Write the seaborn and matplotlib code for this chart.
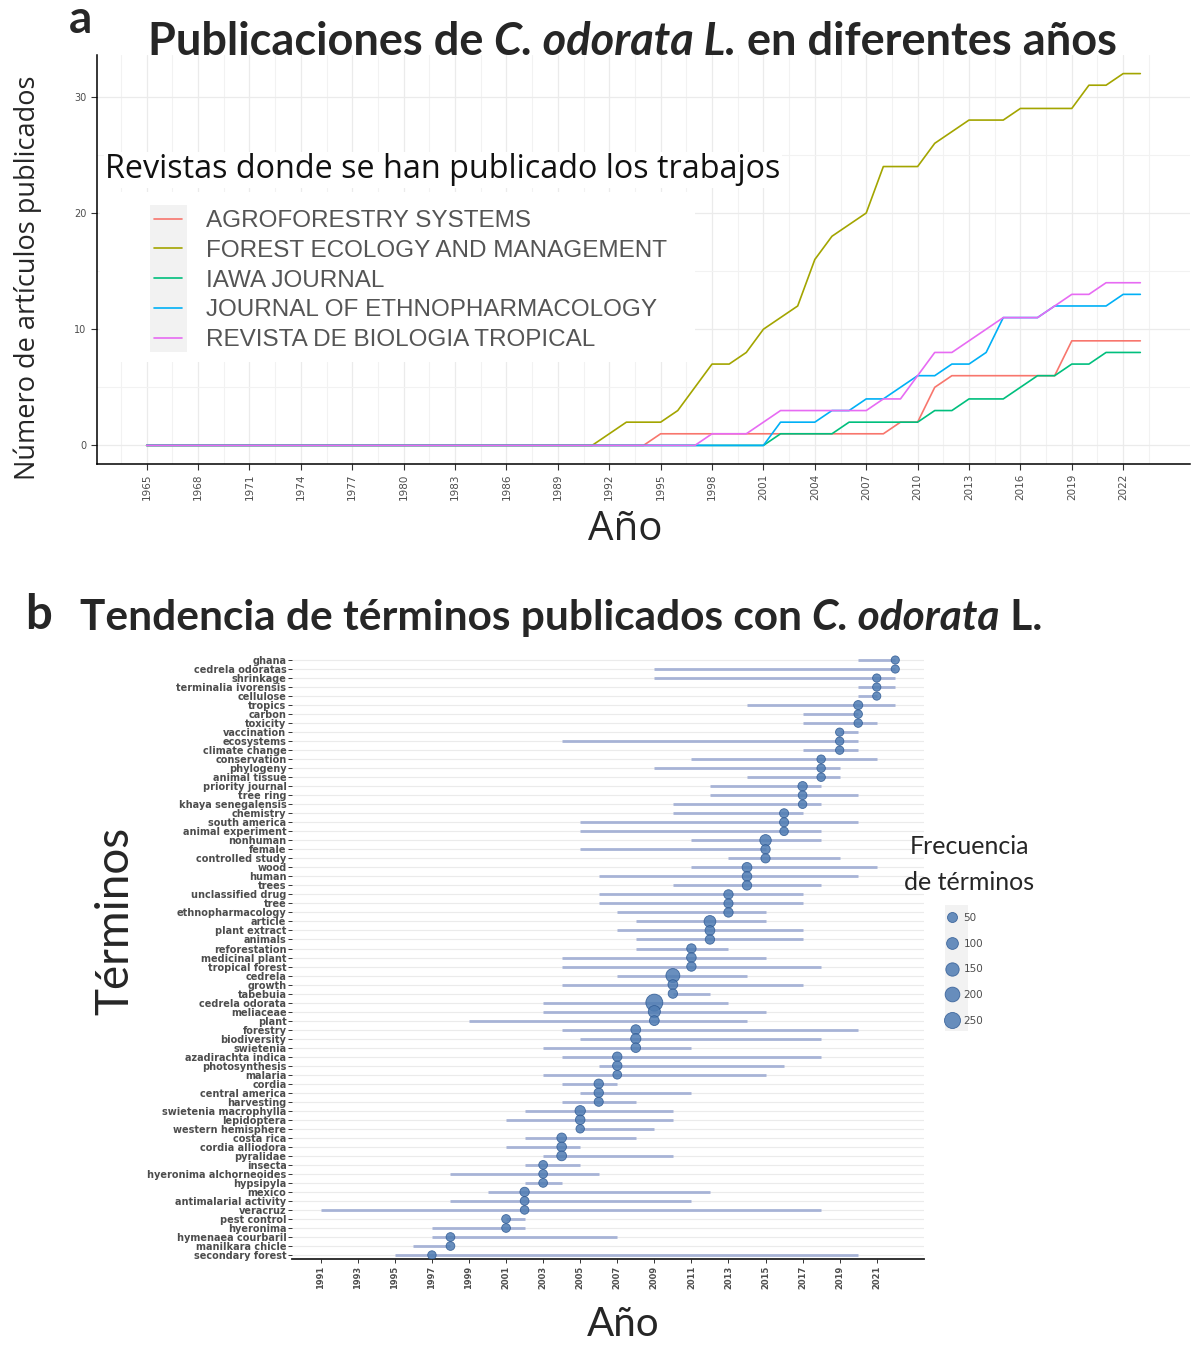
import numpy as np
import pandas as pd
import matplotlib
matplotlib.use("Agg")
import matplotlib.pyplot as plt
import seaborn as sns
from matplotlib.lines import Line2D
from matplotlib.patches import Rectangle

# ---------------- panel a: cumulative publications per journal ----------------
years_a = list(range(1965, 2024))
journals = ["AGROFORESTRY SYSTEMS", "FOREST ECOLOGY AND MANAGEMENT", "IAWA JOURNAL",
            "JOURNAL OF ETHNOPHARMACOLOGY", "REVISTA DE BIOLOGIA TROPICAL"]
journal_colors = ["#F8766D", "#A3A500", "#00BF7D", "#00B0F6", "#E76BF3"]

agroforestry = [0, 0, 0, 0, 0, 0, 0, 0, 0, 0,
                0, 0, 0, 0, 0, 0, 0, 0, 0, 0,
                0, 0, 0, 0, 0, 0, 0, 0, 0, 0,
                1, 1, 1, 1, 1, 1, 1, 1, 1, 1,
                1, 1, 1, 1, 2, 2, 5, 6, 6, 6,
                6, 6, 6, 6, 9, 9, 9, 9, 9]
forest_ecology = [0, 0, 0, 0, 0, 0, 0, 0, 0, 0,
                  0, 0, 0, 0, 0, 0, 0, 0, 0, 0,
                  0, 0, 0, 0, 0, 0, 0, 1, 2, 2,
                  2, 3, 5, 7, 7, 8, 10, 11, 12, 16,
                  18, 19, 20, 24, 24, 24, 26, 27, 28, 28,
                  28, 29, 29, 29, 29, 31, 31, 32, 32]
iawa = [0, 0, 0, 0, 0, 0, 0, 0, 0, 0,
        0, 0, 0, 0, 0, 0, 0, 0, 0, 0,
        0, 0, 0, 0, 0, 0, 0, 0, 0, 0,
        0, 0, 0, 0, 0, 0, 0, 1, 1, 1,
        1, 2, 2, 2, 2, 2, 3, 3, 4, 4,
        4, 5, 6, 6, 7, 7, 8, 8, 8]
ethnopharm = [0, 0, 0, 0, 0, 0, 0, 0, 0, 0,
              0, 0, 0, 0, 0, 0, 0, 0, 0, 0,
              0, 0, 0, 0, 0, 0, 0, 0, 0, 0,
              0, 0, 0, 0, 0, 0, 0, 2, 2, 2,
              3, 3, 4, 4, 5, 6, 6, 7, 7, 8,
              11, 11, 11, 12, 12, 12, 12, 13, 13]
rev_bio_trop = [0, 0, 0, 0, 0, 0, 0, 0, 0, 0,
                0, 0, 0, 0, 0, 0, 0, 0, 0, 0,
                0, 0, 0, 0, 0, 0, 0, 0, 0, 0,
                0, 0, 0, 1, 1, 1, 2, 3, 3, 3,
                3, 3, 3, 4, 4, 6, 8, 8, 9, 10,
                11, 11, 11, 12, 13, 13, 14, 14, 14]

# ---------------- panel b: term trends ----------------
terms = ["ghana", "cedrela odoratas", "shrinkage", "terminalia ivorensis", "cellulose",
         "tropics", "carbon", "toxicity", "vaccination", "ecosystems",
         "climate change", "conservation", "phylogeny", "animal tissue", "priority journal",
         "tree ring", "khaya senegalensis", "chemistry", "south america", "animal experiment",
         "nonhuman", "female", "controlled study", "wood", "human",
         "trees", "unclassified drug", "tree", "ethnopharmacology", "article",
         "plant extract", "animals", "reforestation", "medicinal plant", "tropical forest",
         "cedrela", "growth", "tabebuia", "cedrela odorata", "meliaceae",
         "plant", "forestry", "biodiversity", "swietenia", "azadirachta indica",
         "photosynthesis", "malaria", "cordia", "central america", "harvesting",
         "swietenia macrophylla", "lepidoptera", "western hemisphere", "costa rica", "cordia alliodora",
         "pyralidae", "insecta", "hyeronima alchorneoides", "hypsipyla", "mexico",
         "antimalarial activity", "veracruz", "pest control", "hyeronima", "hymenaea courbaril",
         "manilkara chicle", "secondary forest"]
year_first = [2020, 2009, 2009, 2020, 2020, 2014, 2017, 2017, 2019, 2004,
              2017, 2011, 2009, 2014, 2012, 2012, 2010, 2010, 2005, 2005,
              2011, 2005, 2013, 2011, 2006, 2010, 2006, 2006, 2007, 2008,
              2007, 2008, 2008, 2004, 2004, 2007, 2004, 2010, 2003, 2003,
              1999, 2004, 2005, 2003, 2004, 2006, 2003, 2004, 2005, 2004,
              2002, 2001, 2005, 2002, 2001, 2003, 2002, 1998, 2002, 2000,
              1998, 1991, 2001, 1997, 1997, 1996, 1995]
year_median = [2022, 2022, 2021, 2021, 2021, 2020, 2020, 2020, 2019, 2019,
               2019, 2018, 2018, 2018, 2017, 2017, 2017, 2016, 2016, 2016,
               2015, 2015, 2015, 2014, 2014, 2014, 2013, 2013, 2013, 2012,
               2012, 2012, 2011, 2011, 2011, 2010, 2010, 2010, 2009, 2009,
               2009, 2008, 2008, 2008, 2007, 2007, 2007, 2006, 2006, 2006,
               2005, 2005, 2005, 2004, 2004, 2004, 2003, 2003, 2003, 2002,
               2002, 2002, 2001, 2001, 1998, 1998, 1997]
year_last = [2022, 2022, 2022, 2022, 2021, 2022, 2020, 2021, 2020, 2020,
             2020, 2021, 2019, 2019, 2018, 2020, 2018, 2017, 2020, 2018,
             2018, 2015, 2019, 2021, 2020, 2018, 2017, 2017, 2015, 2015,
             2017, 2017, 2013, 2015, 2018, 2014, 2017, 2012, 2013, 2015,
             2014, 2020, 2018, 2011, 2018, 2016, 2015, 2007, 2011, 2008,
             2010, 2010, 2009, 2008, 2005, 2010, 2005, 2006, 2004, 2012,
             2011, 2018, 2002, 2002, 2007, 1998, 2020]
term_freq = [8, 8, 10, 10, 8, 28, 14, 14, 10, 12,
             12, 14, 14, 14, 35, 20, 14, 28, 28, 16,
             90, 35, 30, 45, 40, 35, 35, 30, 35, 100,
             45, 35, 35, 40, 35, 170, 45, 35, 290, 110,
             45, 45, 55, 40, 35, 35, 20, 35, 35, 28,
             60, 40, 14, 40, 40, 45, 20, 20, 20, 35,
             20, 16, 20, 20, 20, 20, 14]
legend_freq = [50, 100, 150, 200, 250]

# ---------------- figure ----------------
W, H = 1193, 1346
sns.set_theme(style="white")
plt.rcParams["font.family"] = ["DejaVu Sans"]

fig = plt.figure(figsize=(W / 100, H / 100), dpi=100)


def fx(x):
    return x / W


def fy(y):
    return 1 - y / H


def rich_text(x_px, y_px, parts, size, family):
    renderer = fig.canvas.get_renderer()
    x = fx(x_px)
    for txt, style in parts:
        t = fig.text(x, fy(y_px), txt, fontsize=size, family=family,
                     fontweight="bold", fontstyle=style, va="center", ha="left")
        x += t.get_window_extent(renderer).width / W


grid_col = "#EBEBEB"
tick_col = "#4D4D4D"

# ---- panel a ----
df_a = pd.DataFrame({"Año": years_a * 5,
                     "Artículos": agroforestry + forest_ecology + iawa + ethnopharm + rev_bio_trop,
                     "Revista": [j for j in journals for _ in years_a]})

ax_a = fig.add_axes([fx(97), fy(464), fx(1190 - 97), (464 - 55) / H])
sns.lineplot(data=df_a, x="Año", y="Artículos", hue="Revista", hue_order=journals,
             palette=journal_colors, linewidth=1.2, ax=ax_a)
ax_a.set_xlim(1962.1, 2025.9)
ax_a.set_ylim(-1.6, 33.6)
ax_a.set_xticks(list(range(1965, 2023, 3)))
ax_a.set_xticks(list(np.arange(1963.5, 2026, 3)), minor=True)
ax_a.set_yticks([0, 10, 20, 30])
ax_a.set_yticks([5, 15, 25], minor=True)
ax_a.set_axisbelow(True)
ax_a.grid(which="major", color=grid_col, lw=0.9)
ax_a.grid(which="minor", color="#F2F2F2", lw=0.8)
ax_a.tick_params(axis="x", which="major", bottom=True, length=4, width=0.8, color="#333333",
                 labelsize=7.5, labelcolor=tick_col, rotation=90, pad=3)
ax_a.tick_params(axis="y", which="major", left=True, length=4, width=0.8, color="#333333",
                 labelsize=7, labelcolor=tick_col)
ax_a.tick_params(which="minor", length=0)
for s in ["top", "right"]:
    ax_a.spines[s].set_visible(False)
for s in ["left", "bottom"]:
    ax_a.spines[s].set_color("black")
    ax_a.spines[s].set_linewidth(1.1)
ax_a.set_xlabel("")
ax_a.set_ylabel("")

handles, labels = ax_a.get_legend_handles_labels()
ax_a.add_patch(Rectangle((fx(100), fy(362)), fx(595), 170 / H, transform=fig.transFigure,
                         facecolor="white", edgecolor="none", zorder=1.5))
ax_a.add_patch(Rectangle((fx(150), fy(352)), fx(37), 147 / H, transform=fig.transFigure,
                         facecolor="#F2F2F2", edgecolor="none", zorder=4))
ax_a.legend(handles, labels, loc="upper left", bbox_to_anchor=(fx(154), fy(210)),
            bbox_transform=fig.transFigure, frameon=False,
            prop={"family": "Liberation Sans", "size": 17.5}, labelcolor="#555555",
            handlelength=1.15, handletextpad=1.0, labelspacing=0.32, borderpad=0, borderaxespad=0)

fig.text(fx(105), fy(170), "Revistas donde se han publicado los trabajos", fontsize=23.3,
         family="Open Sans", color="#111111", va="center", ha="left",
         bbox=dict(facecolor="white", edgecolor="none", pad=1))
fig.text(fx(81), fy(20), "a", fontsize=33, family="Lato", fontweight="bold", va="center", ha="center")
rich_text(148, 42, [("Publicaciones de ", "normal"), ("C. odorata L.", "italic"),
                    (" en diferentes años", "normal")], 32.5, "Lato")
fig.text(fx(28), fy(278), "Número de artículos publicados", fontsize=19.5, family="Open Sans",
         rotation=90, va="center", ha="center")
fig.text(fx(625), fy(530), "Año", fontsize=29, family="Open Sans", va="center", ha="center")

# ---- panel b ----
n_terms = len(terms)
df_b = pd.DataFrame({"term": terms, "start": year_first, "median": year_median,
                     "end": year_last, "freq": term_freq})
df_b["pos"] = [n_terms - 1 - i for i in range(n_terms)]

ax_b = fig.add_axes([fx(292), fy(1259), fx(924 - 292), (1259 - 652) / H])
ax_b.set_axisbelow(True)
ax_b.hlines(df_b["pos"], df_b["start"], df_b["end"], color="#A7B3D6", lw=2.0, zorder=2)
size_range = (31.6, 152.8)
size_norm = (0, 300)
sns.scatterplot(data=df_b, x="median", y="pos", size="freq", sizes=size_range,
                size_norm=size_norm, color="#4F7CB3", edgecolor="#2F5A94", linewidth=0.6,
                alpha=0.85, legend=False, ax=ax_b, zorder=3)
ax_b.set_xlim(1989.45, 2023.55)
ax_b.set_ylim(-0.44, n_terms - 1 + 0.89)
ax_b.set_xticks(list(range(1991, 2022, 2)))
ax_b.set_yticks(df_b["pos"])
ax_b.set_yticklabels(df_b["term"], fontsize=7, fontweight="bold", color=tick_col)
ax_b.grid(axis="y", color=grid_col, lw=0.8)
ax_b.grid(axis="x", visible=False)
ax_b.tick_params(axis="y", left=True, length=3, width=0.7, color="#333333", pad=1)
ax_b.tick_params(axis="x", bottom=True, length=3, width=0.7, color="#333333",
                 labelsize=6, labelcolor=tick_col, rotation=90, pad=2)
for lab in ax_b.get_xticklabels():
    lab.set_fontweight("bold")
for s in ["top", "right", "left"]:
    ax_b.spines[s].set_visible(False)
ax_b.spines["bottom"].set_color("#222222")
ax_b.spines["bottom"].set_linewidth(1.3)
ax_b.set_xlabel("")
ax_b.set_ylabel("")

fig.text(fx(38), fy(615), "b", fontsize=34, family="Lato", fontweight="bold", va="center", ha="center")
rich_text(80, 618, [("Tendencia de términos publicados con ", "normal"), ("C. odorata", "italic"),
                    (" L.", "normal")], 30.5, "Lato")
fig.text(fx(115), fy(921), "Términos", fontsize=33, family="Lato", rotation=90,
         va="center", ha="center")
fig.text(fx(623), fy(1325), "Año", fontsize=29, family="Lato", va="center", ha="center")

# size legend
fig.text(fx(969), fy(847), "Frecuencia", fontsize=18, family="Lato", va="center", ha="center")
fig.text(fx(969), fy(882), "de términos", fontsize=18, family="Lato", va="center", ha="center")
fig.patches.append(Rectangle((fx(945), fy(1031)), fx(23), 126 / H, transform=fig.transFigure,
                             facecolor="#F2F2F2", edgecolor="none", figure=fig))
size_handles = []
for v in legend_freq:
    s = size_range[0] + (v - size_norm[0]) / (size_norm[1] - size_norm[0]) * (size_range[1] - size_range[0])
    size_handles.append(Line2D([], [], marker="o", linestyle="", markersize=np.sqrt(s),
                               markerfacecolor="#4F7CB3", markeredgecolor="#2F5A94",
                               markeredgewidth=0.6, alpha=0.85))
fig.legend(size_handles, [str(v) for v in legend_freq], loc="upper left",
           bbox_to_anchor=(fx(947), fy(913)), frameon=False, fontsize=7.5, labelcolor=tick_col,
           handlelength=1.0, handletextpad=0.6, labelspacing=1.5, borderpad=0, borderaxespad=0)

fig.savefig("out.png", dpi=100)
